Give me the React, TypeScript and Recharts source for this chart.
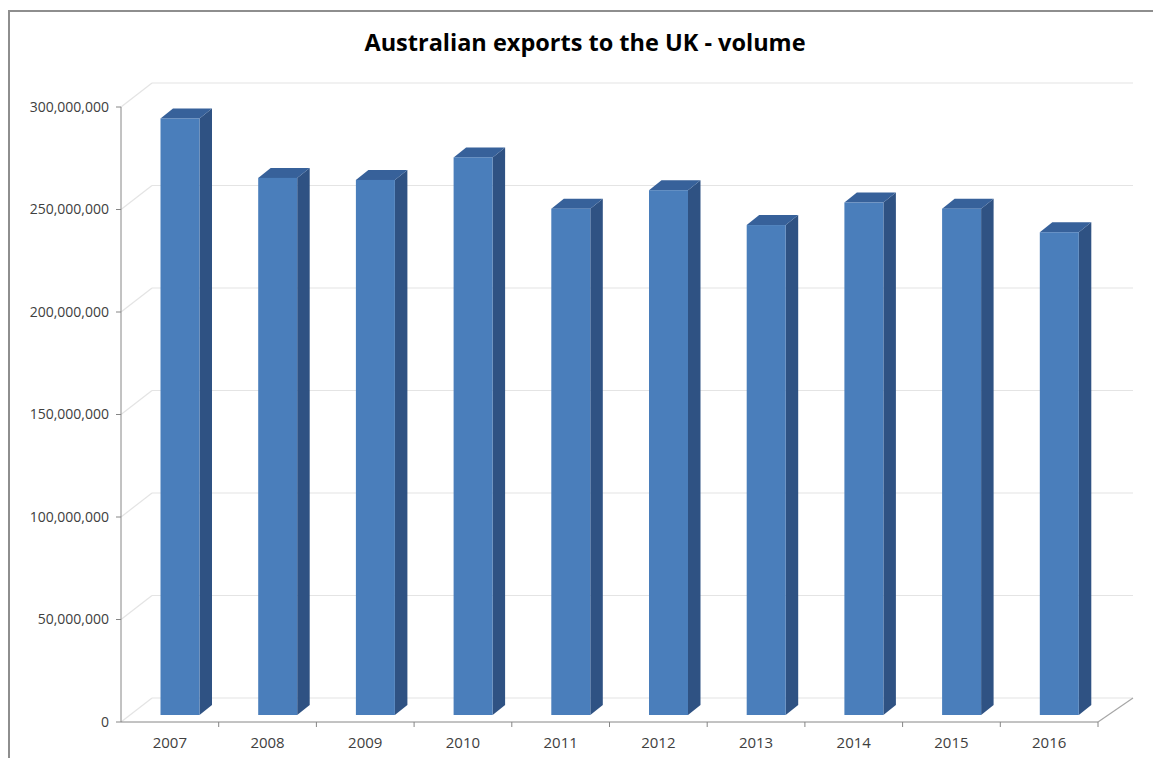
import { BarChart, Bar, XAxis, YAxis, CartesianGrid } from 'recharts'

const YEARS = ['2007', '2008', '2009', '2010', '2011', '2012', '2013', '2014', '2015', '2016']
const VOLUMES = [291e6, 262e6, 261e6, 272e6, 247e6, 256e6, 239e6, 250e6, 247e6, 235.5e6]
const Y_TICKS = [0, 50e6, 100e6, 150e6, 200e6, 250e6, 300e6]

const data = YEARS.map((year, i) => ({ year, volume: VOLUMES[i] }))

const W = 1153
const H = 758
const PLOT_LEFT = 121
const PLOT_RIGHT = 1098
const PLOT_TOP = 107
const PLOT_BOTTOM = 722
const BAND = (PLOT_RIGHT - PLOT_LEFT) / YEARS.length

// 3D look: wall depth and bar depth/shift
const WALL_DX = 31
const WALL_DY = -24
const BAR_SHIFT_X = 10.5
const BAR_SHIFT_Y = -7
const BAR_DX = 12.5
const BAR_DY = -10

const AXIS_COLOR = '#868686'
const FONT = '"Open Sans", "Noto Sans", sans-serif'

function Bar3D(props: any) {
  const { x, y, width, height } = props
  if (height == null || height <= 0) return null
  const fx = x + BAR_SHIFT_X
  const fy = y + BAR_SHIFT_Y
  const side = [
    [fx + width, fy],
    [fx + width + BAR_DX, fy + BAR_DY],
    [fx + width + BAR_DX, fy + height + BAR_DY],
    [fx + width, fy + height],
  ]
  const top = [
    [fx, fy],
    [fx + BAR_DX, fy + BAR_DY],
    [fx + width + BAR_DX, fy + BAR_DY],
    [fx + width, fy],
  ]
  return (
    <g>
      <polygon points={side.map((p) => p.join(',')).join(' ')} fill="#2F5283" />
      <polygon points={top.map((p) => p.join(',')).join(' ')} fill="#37619A" />
      <rect x={fx} y={fy} width={width} height={height} fill="#4A7EBB" />
    </g>
  )
}

function WallLine(props: any) {
  const { x1, y1, x2 } = props
  const isFloor = Math.abs(y1 - PLOT_BOTTOM) < 1
  return (
    <g key={`wall-${y1}`}>
      <line x1={x1} y1={y1} x2={x1 + WALL_DX} y2={y1 + WALL_DY} stroke="#E4E4E4" strokeWidth={1.2} />
      <line x1={x1 + WALL_DX} y1={y1 + WALL_DY} x2={x2 + 35} y2={y1 + WALL_DY} stroke="#E4E4E4" strokeWidth={1.2} />
      {isFloor && (
        <line x1={x2} y1={y1} x2={x2 + 35} y2={y1 + WALL_DY} stroke="#A6A6A6" strokeWidth={1.2} />
      )}
    </g>
  )
}

function XTick(props: any) {
  const { x, payload } = props
  return (
    <g>
      <line x1={x + BAND / 2} y1={PLOT_BOTTOM} x2={x + BAND / 2} y2={PLOT_BOTTOM + 5} stroke={AXIS_COLOR} />
      <text x={x} y={PLOT_BOTTOM + 26} textAnchor="middle" fill="#404040" fontSize={15} fontFamily={FONT}>
        {payload.value}
      </text>
    </g>
  )
}

export default function App() {
  return (
    <div style={{ position: 'absolute', left: 0, top: 0, width: W, height: H, overflow: 'hidden', background: '#fff' }}>
      <div
        style={{
          position: 'absolute',
          left: 8,
          top: 10,
          width: 1300,
          height: 900,
          borderLeft: '2px solid #8E8E8E',
          borderTop: '2px solid #8E8E8E',
        }}
      />
      <div
        style={{
          position: 'absolute',
          left: 585,
          top: 26,
          transform: 'translateX(-50%)',
          whiteSpace: 'nowrap',
          fontFamily: FONT,
          fontWeight: 700,
          fontSize: 23.5,
          color: '#000',
        }}
      >
        Australian exports to the UK - volume
      </div>
      <div style={{ position: 'absolute', left: 0, top: 0 }}>
        <BarChart
          width={W}
          height={H}
          data={data}
          margin={{ top: PLOT_TOP, right: W - PLOT_RIGHT, bottom: 0, left: 0 }}
          barSize={39}
        >
          <CartesianGrid vertical={false} horizontal={WallLine} />
          <XAxis
            dataKey="year"
            height={H - PLOT_BOTTOM}
            axisLine={{ stroke: AXIS_COLOR }}
            tickLine={false}
            tick={XTick}
            interval={0}
          />
          <YAxis
            width={PLOT_LEFT}
            domain={[0, 300e6]}
            ticks={Y_TICKS}
            tickFormatter={(v: number) => v.toLocaleString('en-US')}
            axisLine={{ stroke: AXIS_COLOR }}
            tickLine={{ stroke: AXIS_COLOR }}
            tickSize={5}
            tickMargin={7}
            tick={{ fill: '#404040', fontSize: 14, fontFamily: FONT }}
          />
          <Bar dataKey="volume" shape={Bar3D} isAnimationActive={false} />
        </BarChart>
      </div>
    </div>
  )
}
